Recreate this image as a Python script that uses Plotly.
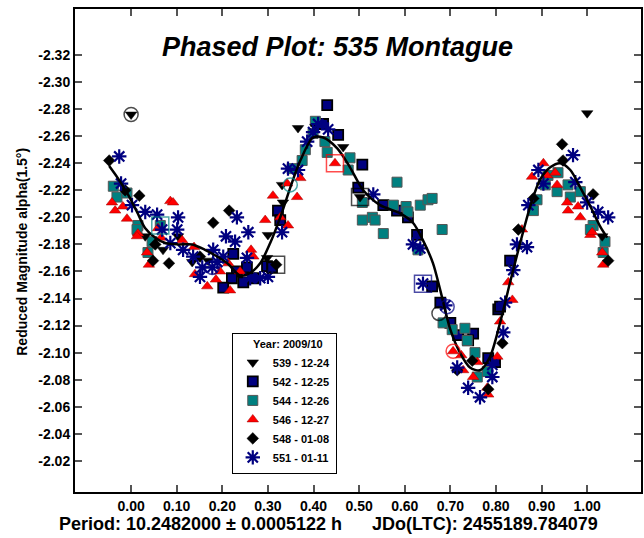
import plotly.graph_objects as go

# ---------------- data (phase, reduced magnitude) ----------------
p539 = [0.000, 0.031, 0.070, 0.103, 0.134, 0.169, 0.298, 0.300, 0.333, 0.331,
        0.366, 0.404, 0.465, 0.502, 1.000, 1.033]
m539 = [-2.276, -2.186, -2.176, -2.186, -2.167, -2.168, -2.170, -2.187, -2.211, -2.224,
        -2.266, -2.267, -2.252, -2.215, -2.277, -2.186]

p542 = [0.224, 0.232, 0.221, 0.202, 0.246, 0.268, 0.254, 0.322, 0.327, 0.298, 0.309,
        0.430, 0.421, 0.454, 0.507, 0.498, 0.553, 0.583, 0.607, 0.627, 0.660, 0.678,
        0.700, 0.717, 0.750, 0.739, 0.783, 0.798, 0.805, 0.809, 0.831]
m542 = [-2.173, -2.160, -2.155, -2.148, -2.152, -2.155, -2.163, -2.205, -2.198, -2.164, -2.163,
        -2.283, -2.269, -2.261, -2.239, -2.222, -2.209, -2.205, -2.200, -2.187, -2.149, -2.137,
        -2.122, -2.113, -2.114, -2.109, -2.096, -2.093, -2.132, -2.134, -2.168]

p544 = [-0.039, -0.031, -0.009, 0.015, 0.013, 0.046, 0.037, 0.064,
        0.353, 0.375, 0.382, 0.399, 0.404, 0.425, 0.430, 0.480, 0.476, 0.583, 0.507, 0.507,
        0.529, 0.535, 0.553, 0.575, 0.603, 0.607, 0.634, 0.651, 0.660, 0.682, 0.629,
        0.684, 0.704, 0.732, 0.737, 0.754, 0.781, 0.759,
        0.882, 0.890, 0.908, 0.914, 0.936, 0.958, 0.934, 0.963, 0.985, 1.013, 1.007, 1.039, 1.035]
m544 = [-2.223, -2.215, -2.218, -2.194, -2.191, -2.182, -2.174, -2.194,
        -2.236, -2.242, -2.250, -2.262, -2.271, -2.256, -2.248, -2.244, -2.235, -2.226, -2.211, -2.198,
        -2.200, -2.198, -2.188, -2.209, -2.208, -2.204, -2.209, -2.213, -2.214, -2.191, -2.176,
        -2.122, -2.117, -2.118, -2.109, -2.100, -2.086, -2.082,
        -2.205, -2.213, -2.224, -2.231, -2.233, -2.224, -2.219, -2.215, -2.219, -2.194, -2.191, -2.182, -2.174]

p546 = [-0.042, -0.035, -0.018, -0.009, 0.086, 0.092, 0.015, 0.013, 0.035, 0.039, 0.059, 0.066,
        0.112, 0.138, 0.140, 0.167, 0.186, 0.195, 0.213, 0.217, 0.239, 0.263, 0.268, 0.294,
        0.311, 0.327, 0.344, 0.342, 0.364, 0.371, 0.447,
        0.879, 0.904, 0.912, 0.930, 0.934, 0.956, 0.958, 0.980, 0.985, 1.007, 1.011, 1.033, 1.035,
        0.857, 0.827, 0.836, 0.809, 0.803, 0.759, 0.750, 0.728, 0.706, 0.724, 0.781, 0.783]
m546 = [-2.211, -2.205, -2.208, -2.199, -2.212, -2.211, -2.188, -2.186, -2.174, -2.165, -2.192, -2.185,
        -2.183, -2.178, -2.158, -2.149, -2.154, -2.160, -2.166, -2.146, -2.160, -2.176, -2.171, -2.198,
        -2.216, -2.200, -2.194, -2.225, -2.215, -2.229, -2.240,
        -2.230, -2.240, -2.231, -2.233, -2.224, -2.211, -2.205, -2.208, -2.200, -2.187, -2.189, -2.174, -2.165,
        -2.191, -2.152, -2.139, -2.123, -2.097, -2.093, -2.082, -2.087, -2.101, -2.098, -2.074, -2.069]

p548 = [-0.048, -0.013, 0.018, 0.053, 0.048, 0.083, 0.151, 0.180, 0.215, 0.318,
        0.947, 0.945, 1.013, 1.046, 0.849, 0.882, 0.814, 0.783, 0.748, 0.715]
m548 = [-2.242, -2.220, -2.216, -2.180, -2.168, -2.166, -2.171, -2.196, -2.205, -2.165,
        -2.242, -2.254, -2.217, -2.168, -2.191, -2.214, -2.107, -2.073, -2.094, -2.087]

p551 = [-0.026, -0.022, 0.002, 0.031, 0.057, 0.068, 0.103, 0.101, 0.086, 0.114, 0.136, 0.151,
        0.156, 0.189, 0.208, 0.232, 0.257, 0.228, 0.202, 0.180, 0.254, 0.300, 0.283, 0.261,
        0.178, 0.331, 0.344, 0.366, 0.386, 0.399, 0.410, 0.432, 0.531, 0.618, 0.634, 0.640,
        0.689, 0.715, 0.739, 0.765, 0.792, 0.792, 0.816, 0.820, 0.846, 0.868, 0.871, 0.893,
        0.904, 0.969, 0.974, 1.000, 1.024, 1.046, 0.838]
m551 = [-2.245, -2.225, -2.209, -2.204, -2.202, -2.191, -2.200, -2.191, -2.181, -2.176, -2.171, -2.156,
        -2.163, -2.167, -2.186, -2.200, -2.189, -2.182, -2.171, -2.176, -2.170, -2.156, -2.155, -2.155,
        -2.163, -2.189, -2.236, -2.235, -2.256, -2.263, -2.269, -2.265, -2.217, -2.180, -2.177, -2.151,
        -2.135, -2.089, -2.074, -2.067, -2.091, -2.082, -2.115, -2.137, -2.180, -2.178, -2.209, -2.235,
        -2.225, -2.246, -2.226, -2.211, -2.204, -2.200, -2.161]

# Fourier fit curve
fit_phase = [-0.048, -0.029, -0.007, 0.013, 0.031, 0.053, 0.075, 0.103, 0.134, 0.162, 0.184,
             0.211, 0.239, 0.261, 0.283, 0.305, 0.327, 0.349, 0.371, 0.399, 0.421, 0.452,
             0.480, 0.509, 0.546, 0.590, 0.618, 0.640, 0.662, 0.678, 0.700, 0.721, 0.743,
             0.765, 0.787, 0.809, 0.831, 0.853, 0.875, 0.897, 0.919, 0.941, 0.963, 0.985,
             1.007, 1.029, 1.044]
fit_mag = [-2.238, -2.229, -2.217, -2.204, -2.192, -2.185, -2.181, -2.180, -2.180, -2.176, -2.172,
           -2.166, -2.157, -2.159, -2.166, -2.181, -2.200, -2.222, -2.242, -2.259, -2.259, -2.251,
           -2.237, -2.220, -2.209, -2.203, -2.196, -2.183, -2.166, -2.146, -2.117, -2.100, -2.089,
           -2.087, -2.097, -2.122, -2.152, -2.181, -2.208, -2.228, -2.237, -2.240, -2.235, -2.222,
           -2.208, -2.193, -2.185]

# first point of each session (highlighted)
hl_phase = [0.000, 0.064, 0.178, 0.318, 0.349, 0.447, 0.502, 0.640, 0.693, 0.675, 0.706]
hl_mag = [-2.276, -2.194, -2.163, -2.165, -2.224, -2.240, -2.215, -2.151, -2.134, -2.129, -2.101]
hl_session = ["539", "544", "551", "542", "544", "546", "542", "551", "551", "548", "546"]

x_ticks = [0.0, 0.1, 0.2, 0.3, 0.4, 0.5, 0.6, 0.7, 0.8, 0.9, 1.0]
y_ticks = [-2.32, -2.30, -2.28, -2.26, -2.24, -2.22, -2.20, -2.18, -2.16, -2.14,
           -2.12, -2.10, -2.08, -2.06, -2.04, -2.02]

legend_names = ["539 - 12-24", "542 - 12-25", "544 - 12-26", "546 - 12-27", "548 - 01-08", "551 - 01-11"]

# ---------------- styles ----------------
FONT = "Liberation Sans, Arial, sans-serif"
NAVY = "#000080"
TEAL = "#008080"
RED = "#FF0000"
session_color = {"539": "black", "542": "black", "544": TEAL, "546": RED, "548": "black", "551": NAVY}
hl_shape = ["circle-open", "square-open", "circle-open", "square-open", "circle-open",
            "square-open", "square-open", "square-open", "circle-open", "circle-open", "circle-open"]
hl_colors = [session_color[s] for s in hl_session]

fig = go.Figure()

fig.add_trace(go.Scatter(x=p542, y=m542, mode="markers", name=legend_names[1], legendrank=2,
                         marker=dict(symbol="square", size=10, color=NAVY,
                                     line=dict(color="black", width=1.8))))
fig.add_trace(go.Scatter(x=p544, y=m544, mode="markers", name=legend_names[2], legendrank=3,
                         marker=dict(symbol="square", size=10, color=TEAL,
                                     line=dict(color="#555555", width=1))))
fig.add_trace(go.Scatter(x=p539, y=m539, mode="markers", name=legend_names[0], legendrank=1,
                         marker=dict(symbol="triangle-down", size=10, color="black",
                                     line=dict(color="black", width=0.5))))
fig.add_trace(go.Scatter(x=p546, y=m546, mode="markers", name=legend_names[3], legendrank=4,
                         marker=dict(symbol="triangle-up", size=10, color=RED,
                                     line=dict(color="#990000", width=0.5))))
fig.add_trace(go.Scatter(x=p548, y=m548, mode="markers", name=legend_names[4], legendrank=5,
                         marker=dict(symbol="diamond", size=9, color="black",
                                     line=dict(color="black", width=0.5))))
fig.add_trace(go.Scatter(x=p551, y=m551, mode="markers", name=legend_names[5], legendrank=6,
                         marker=dict(symbol="asterisk-open", size=12, color=NAVY,
                                     line=dict(color=NAVY, width=2.2))))

fig.add_trace(go.Scatter(x=fit_phase, y=fit_mag, mode="lines", showlegend=False,
                         line=dict(color="black", width=2.5, shape="spline", smoothing=0.8)))

fig.add_trace(go.Scatter(x=hl_phase, y=hl_mag, mode="markers", showlegend=False,
                         marker=dict(symbol=hl_shape,
                                     size=[14 if s.startswith("circle") else 17 for s in hl_shape],
                                     color=hl_colors,
                                     line=dict(color=hl_colors, width=1.5))))

fig.update_xaxes(range=[-0.123, 1.118], tickvals=x_ticks,
                 ticktext=[f"{v:.2f}" for v in x_ticks],
                 ticks="inside", ticklen=7, tickwidth=1.5, tickcolor="#555555",
                 showline=True, linecolor="black", linewidth=2, mirror="ticks",
                 showgrid=False, zeroline=False,
                 tickfont=dict(family=FONT, size=14, color="black", weight="bold"))
fig.update_yaxes(range=[-1.997, -2.354], tickvals=y_ticks,
                 ticktext=[f"{v:.2f}" for v in y_ticks],
                 ticks="inside", ticklen=7, tickwidth=1.5, tickcolor="#555555",
                 showline=True, linecolor="black", linewidth=2, mirror="ticks",
                 showgrid=False, zeroline=False,
                 tickfont=dict(family=FONT, size=14, color="black", weight="bold"))

fig.update_layout(
    width=644, height=538,
    margin=dict(l=75, r=3, t=9, b=46, autoexpand=False),
    paper_bgcolor="white", plot_bgcolor="white",
    font=dict(family=FONT, color="black"),
    showlegend=True,
    legend=dict(x=0.277, y=0.33, xanchor="left", yanchor="top",
                bgcolor="white", bordercolor="black", borderwidth=1,
                font=dict(family=FONT, size=11, color="black", weight="bold"),
                title=dict(text="      Year: 2009/10", font=dict(family=FONT, size=11, weight="bold")),
                tracegroupgap=0, itemwidth=30),
    annotations=[
        dict(text="Phased Plot: 535 Montague", xref="paper", yref="paper", x=0.463, y=0.921,
             xanchor="center", yanchor="middle", showarrow=False,
             font=dict(family=FONT, size=27, color="black", weight="bold", style="italic")),
        dict(text="Reduced Magnitude alpha(1.5°)", xref="paper", yref="paper", x=-0.094, y=0.497,
             xanchor="center", yanchor="middle", showarrow=False, textangle=-90,
             font=dict(family=FONT, size=14, color="black", weight="bold")),
        dict(text="Period: 10.2482000 ± 0.0005122 h      JDo(LTC): 2455189.784079",
             xref="paper", yref="paper", x=0.447, y=-0.066,
             xanchor="center", yanchor="middle", showarrow=False,
             font=dict(family=FONT, size=18, color="black", weight="bold")),
    ],
)

fig.write_html("out.html", config={"displayModeBar": False},
               post_script="document.body.style.margin='0';document.body.style.overflow='hidden';")
